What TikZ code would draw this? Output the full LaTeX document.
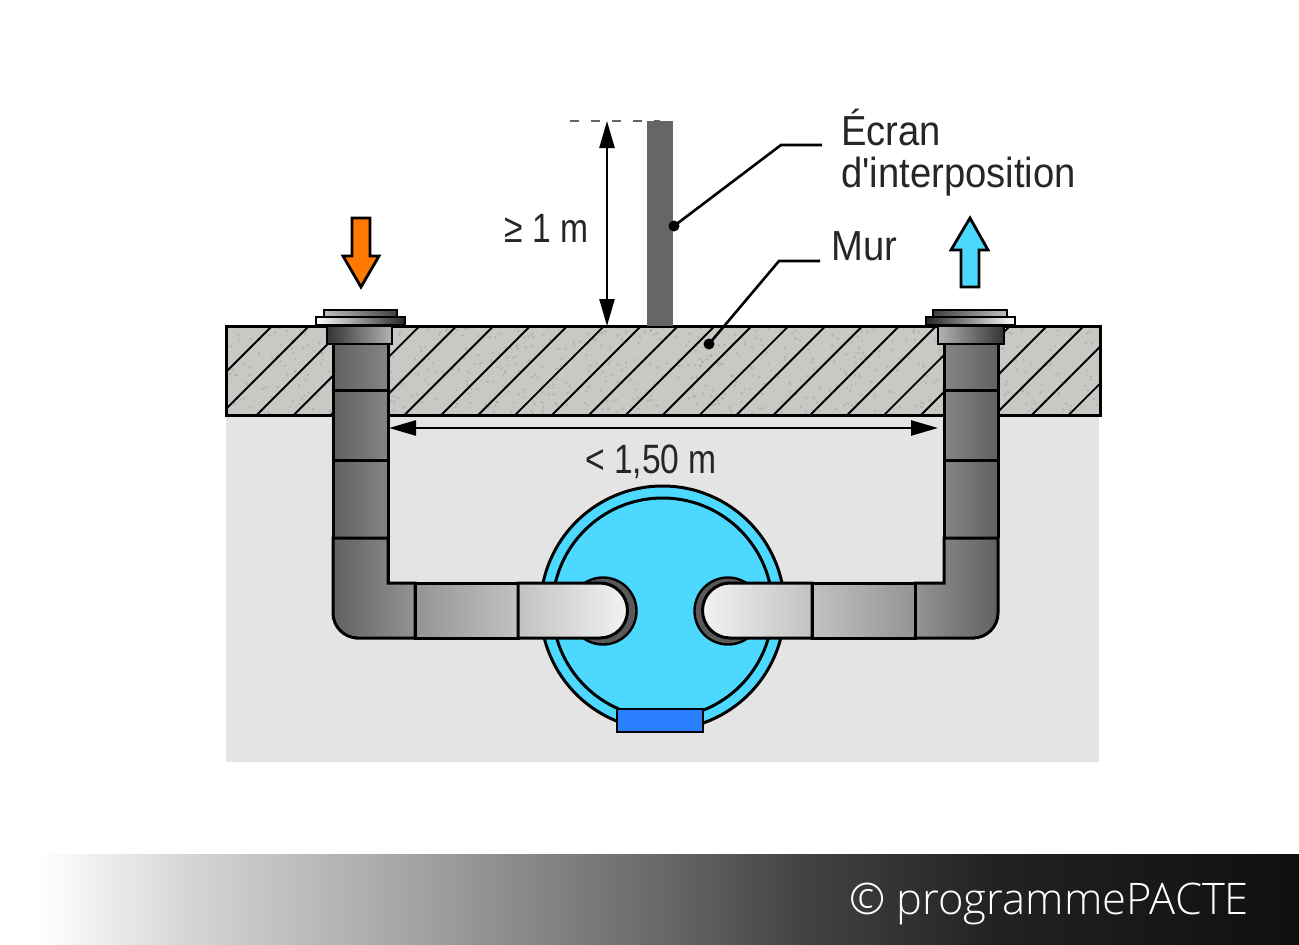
\documentclass[tikz,border=0pt]{standalone}
\usepackage{fontspec}
\newfontfamily\labelfont[FakeStretch=0.91]{Liberation Sans}
\newfontfamily\dimfont[FakeStretch=0.82]{Liberation Sans}
\newfontfamily\bandfont{Open Sans Light}
\usetikzlibrary{arrows.meta}
\definecolor{wallgray}{HTML}{C6C9C4}
\definecolor{groundgray}{HTML}{E4E4E4}
\definecolor{tankblue}{HTML}{4DD8FF}
\definecolor{padblue}{HTML}{2A7FFF}
\definecolor{screengray}{HTML}{666666}
\pgfdeclarehorizontalshading{bandshade}{100bp}{
	color(0bp)=(white);
	color(26.5bp)=(white);
	color(32.5bp)=(black!17);
	color(40.5bp)=(black!35);
	color(50bp)=(black!58);
	color(56bp)=(black!74);
	color(63.5bp)=(black!87);
	color(75bp)=(black!94);
	color(100bp)=(black!94)}
\tikzset{
	outline/.style={draw=black,line width=3pt},
	joint/.style={draw=black,line width=3pt},
	flange/.style={draw=black,line width=1.8pt},
	leader/.style={draw=black,line width=2.6pt},
	dim/.style={draw=black,line width=2.4pt,{Triangle[length=27pt,width=15pt]}-{Triangle[length=27pt,width=15pt]}},
	label/.style={font=\labelfont\fontsize{42}{48}\selectfont,inner sep=0pt,text=black!85,anchor=base west},
	dimlabel/.style={font=\dimfont\fontsize{41}{48}\selectfont,inner sep=0pt,text=black!85},
}
\begin{document}
\begin{tikzpicture}[x=1pt,y=-1pt]
	\useasboundingbox (0,0) rectangle (1299,945);
	% bottom band
	\shade[shading=bandshade] (0,854) rectangle (1299,945);
	\node[anchor=base east,inner sep=0pt,text=white,font=\bandfont\fontsize{43.5}{48}\selectfont] (credit) at (1249,914) {© programmePACTE};
	% ground
	\fill[groundgray] (226,415) rectangle (1099,762);
	% wall
	\fill[wallgray] (226,326) rectangle (1100,415);
	\begin{scope}
		\clip (226,326) rectangle (1100,415);
		\pgfmathsetseed{7}
		\foreach \i in {1,...,700}
			\fill[black!45,opacity=0.35] ({226+rnd*874},{326+rnd*89}) circle (1.3);
		\foreach \i in {0,...,25}
			\draw[line width=1.9pt] ({183+\i*36.9},415) -- ++(89,-89);
	\end{scope}
	\draw[outline] (226,326) rectangle (1100,415);
	% left pipe
	\shade[left color=black!62,right color=black!48] (333,344) rectangle (388,538);
	\draw[joint] (333,344) -- (333,538) (388,344) -- (388,583);
	\draw[joint] (333,390) -- (388,390);
	\draw[joint] (333,460) -- (388,460);
	% right pipe
	\shade[left color=black!48,right color=black!62] (944,344) rectangle (998,538);
	\draw[joint] (944,344) -- (944,583) (998,344) -- (998,538);
	\draw[joint] (944,390) -- (998,390);
	\draw[joint] (944,460) -- (998,460);
	% tank
	\draw[outline,fill=tankblue] (662.5,608) circle (122);
	\draw[outline] (662.5,608) circle (110);
	\draw[draw=black,line width=2.4pt,fill=padblue] (617,709) rectangle (703,732);
	% rings at the pipe ends
	\draw[draw=black,line width=2.4pt,fill=black!65] (603,611) circle (33.5);
	\draw[draw=black,line width=2.4pt,fill=black!65] (728,611) circle (33.5);
	% elbows
	\shade[left color=black!62,right color=black!42] (333,538) [rounded corners=25pt] -- (333,638) -- (380,638) [sharp corners] -- (415,638) -- (415,583) -- (388,583) -- (388,538) -- cycle;
	\draw[joint] (333,538) [rounded corners=25pt] -- (333,638) -- (380,638) [sharp corners] -- (415,638) -- (415,583) -- (388,583) -- (388,538) -- cycle;
	\shade[left color=black!42,right color=black!62] (998,538) [rounded corners=25pt] -- (998,638) -- (950,638) [sharp corners] -- (915,638) -- (915,583) -- (944,583) -- (944,538) -- cycle;
	\draw[joint] (998,538) [rounded corners=25pt] -- (998,638) -- (950,638) [sharp corners] -- (915,638) -- (915,583) -- (944,583) -- (944,538) -- cycle;
	% horizontal parts
	\shade[left color=black!42,right color=black!24] (415,583) rectangle (518,638);
	\draw[joint] (415,583) rectangle (518,638);
	\shade[right color=black!42,left color=black!24] (812,583) rectangle (915,638);
	\draw[joint] (812,583) rectangle (915,638);
	\shade[left color=black!24,right color=black!5] (518,583) -- (600,583) arc[start angle=90,end angle=-90,x radius=27.5,y radius=-27.5] -- (518,638) -- cycle;
	\draw[joint] (518,583) -- (600,583) arc[start angle=90,end angle=-90,x radius=27.5,y radius=-27.5] -- (518,638) -- cycle;
	\shade[right color=black!24,left color=black!5] (812,583) -- (730,583) arc[start angle=90,end angle=270,x radius=27.5,y radius=-27.5] -- (812,638) -- cycle;
	\draw[joint] (812,583) -- (730,583) arc[start angle=90,end angle=270,x radius=27.5,y radius=-27.5] -- (812,638) -- cycle;
	% left flange
	\shade[flange,left color=black!25,right color=black!75] (324,310) rectangle (397,317);
	\shade[flange,left color=white,right color=black!85] (316,317) rectangle (405,325);
	\shade[flange,left color=black!80,right color=black!30] (327,326) rectangle (392,344);
	% right flange
	\shade[flange,left color=black!75,right color=black!25] (933,310) rectangle (1007,317);
	\shade[flange,left color=black!85,right color=white] (926,317) rectangle (1015,325);
	\shade[flange,left color=black!30,right color=black!80] (938,326) rectangle (1004,344);
	% flow arrows
	\draw[line width=2.8pt,fill=orange!95!red] (352,218) -- (370,218) -- (370,256) -- (379,256) -- (361,287) -- (343,256) -- (352,256) -- cycle;
	\draw[line width=2.8pt,fill=tankblue] (961,287) -- (979,287) -- (979,250) -- (988,250) -- (970,218) -- (951,250) -- (961,250) -- cycle;
	% screen
	\fill[screengray] (647,121) rectangle (673,326);
	\draw[screengray,line width=2pt,dash pattern=on 9pt off 12pt] (570,121) -- (660,121);
	% dimensions
	\coordinate (dimtop) at (607,121);
	\coordinate (dimbot) at (607,326);
	\draw[dim] (dimtop) -- (dimbot);
	\node[dimlabel,anchor=base east] (onem) at (589,242) {≥ 1 m};
	\coordinate (dimleft) at (389,428);
	\coordinate (dimright) at (938,428);
	\draw[dim] (dimleft) -- (dimright);
	\node[dimlabel,anchor=base] (width) at (651,473) {< 1,50 m};
	% leaders
	\node[label] (screenlabel) at (841,145) {Écran};
	\node[label] (interlabel) at (841,187) {d'interposition};
	\node[label] (murlabel) at (831,260) {Mur};
	\coordinate (screendot) at (674,226);
	\coordinate (screenknee) at (781,145);
	\coordinate (screenend) at (822,145);
	\coordinate (murdot) at (709,344);
	\coordinate (murknee) at (779,261);
	\coordinate (murend) at (820,261);
	\draw[leader] (screendot) -- (screenknee) -- (screenend);
	\draw[leader] (murdot) -- (murknee) -- (murend);
	\fill (screendot) circle (5.5);
	\fill (murdot) circle (5.5);
\end{tikzpicture}
\end{document}
